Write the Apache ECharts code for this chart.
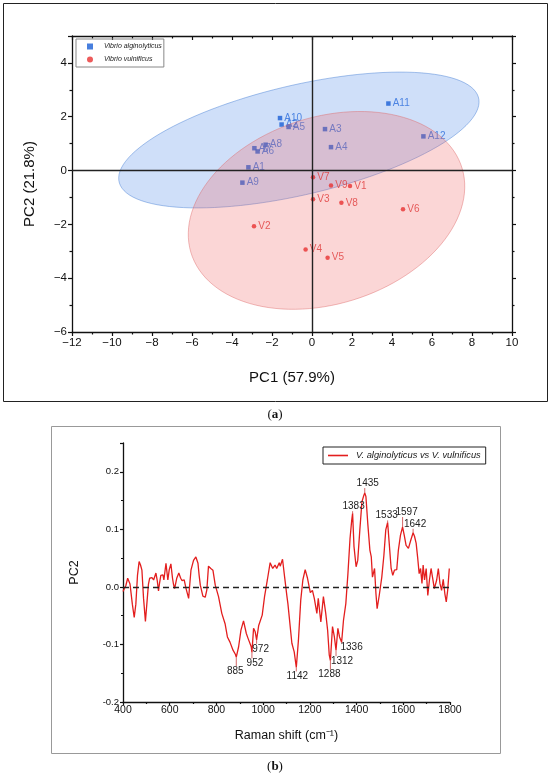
<!DOCTYPE html>
<html>
<head>
<meta charset="utf-8">
<title>PCA of Vibrio Raman spectra</title>
<script src="https://cdn.jsdelivr.net/npm/echarts@6/dist/echarts.min.js"></script>
<style>
html, body { margin: 0; padding: 0; background: #fff; }
#chart { width: 550px; height: 778px; }
</style>
</head>
<body>
<div id="chart"></div>
<script>
// ---- (a) PCA scores ----
var algNames = ['A1', 'A2', 'A3', 'A4', 'A5', 'A6', 'A7', 'A8', 'A9', 'A10', 'A11', 'A12'];
var algPC1 = [-3.18, -1.52, 0.65, 0.95, -1.17, -2.72, -2.88, -2.32, -3.48, -1.60, 3.82, 5.57];
var algPC2 = [0.12, 1.71, 1.54, 0.87, 1.62, 0.71, 0.83, 0.96, -0.45, 1.95, 2.49, 1.27];

var vulNames = ['V1', 'V2', 'V3', 'V4', 'V5', 'V6', 'V7', 'V8', 'V9'];
var vulPC1 = [1.90, -2.90, 0.05, -0.32, 0.78, 4.55, 0.05, 1.47, 0.95];
var vulPC2 = [-0.57, -2.07, -1.07, -2.93, -3.24, -1.44, -0.25, -1.20, -0.56];

// F(0.95; 2, n-2) for the 95% confidence ellipses
var fAlg = 4.1028; // n = 12
var fVul = 4.7374; // n = 9

// ---- (b) PC2 loading ----
var ramanShift = [400, 404, 412, 420, 430, 440, 448, 455, 462, 469, 475, 481, 488, 496, 504, 509, 514, 524, 531, 541,
  547, 552, 557, 562, 571, 575, 584, 592, 598, 605, 612, 616, 621, 630, 639, 647, 653, 662, 670, 676,
  681, 686, 691, 702, 712, 721, 726, 731, 742, 752, 759, 766, 776, 785, 795, 809, 823, 837, 847, 858,
  871, 881, 885, 895, 905, 916, 928, 935, 942, 949, 952, 959, 966, 972, 981, 996, 1006, 1018, 1030, 1041,
  1051, 1058, 1069, 1073, 1083, 1092, 1102, 1106, 1112, 1123, 1133, 1142, 1151, 1161, 1170, 1180, 1190, 1202, 1211, 1219,
  1230, 1236, 1247, 1258, 1268, 1276, 1283, 1288, 1297, 1305, 1312, 1320, 1327, 1336, 1344, 1354, 1363, 1372, 1379, 1383,
  1389, 1398, 1405, 1414, 1423, 1431, 1435, 1440, 1448, 1457, 1463, 1468, 1477, 1483, 1488, 1497, 1508, 1517, 1525, 1533,
  1539, 1548, 1555, 1562, 1572, 1579, 1588, 1597, 1604, 1612, 1622, 1632, 1642, 1648, 1655, 1662, 1668, 1674, 1680, 1685,
  1691, 1698, 1705, 1712, 1719, 1725, 1733, 1743, 1750, 1757, 1764, 1771, 1778, 1784, 1790, 1797];
var pc2Loading = [-0.008, -0.010, 0.002, 0.015, 0.005, -0.030, -0.053, -0.030, 0.020, 0.044, 0.038, 0.029, -0.020, -0.060, -0.020, 0.005, 0.015, 0.016, 0.012, 0.024,
  0.010, -0.007, 0.008, 0.020, 0.021, 0.012, 0.041, 0.012, 0.030, 0.040, 0.015, 0.005, -0.003, 0.015, 0.024, 0.015, 0.011, 0.012, -0.003, -0.012,
  -0.020, 0.005, 0.029, 0.046, 0.052, 0.041, 0.020, 0.003, -0.016, -0.018, -0.005, 0.036, 0.032, 0.029, 0.003, -0.017, -0.046, -0.064, -0.087, -0.096,
  -0.110, -0.117, -0.122, -0.104, -0.075, -0.059, -0.081, -0.089, -0.088, -0.104, -0.114, -0.072, -0.078, -0.092, -0.067, -0.049, -0.017, 0.012, 0.042, 0.032,
  0.038, 0.032, 0.042, 0.036, 0.048, 0.017, -0.017, -0.029, -0.031, -0.098, -0.113, -0.140, -0.093, -0.023, 0.012, 0.030, 0.015, -0.010, -0.006, -0.020,
  -0.046, -0.020, -0.061, -0.017, -0.046, -0.075, -0.118, -0.128, -0.069, -0.087, -0.110, -0.072, -0.087, -0.096, -0.058, -0.029, 0.023, 0.084, 0.115, 0.128,
  0.070, 0.035, 0.046, 0.099, 0.148, 0.159, 0.163, 0.157, 0.110, 0.064, 0.052, 0.017, 0.032, -0.012, -0.038, -0.015, 0.017, 0.055, 0.099, 0.112,
  0.080, 0.032, 0.020, 0.029, 0.030, 0.064, 0.090, 0.104, 0.090, 0.072, 0.067, 0.081, 0.094, 0.088, 0.076, 0.049, 0.023, 0.032, 0.006, 0.038,
  0.012, 0.032, -0.015, 0.012, 0.032, 0.017, -0.003, 0.012, 0.032, 0.006, -0.006, 0.013, -0.012, -0.026, -0.006, 0.032];
var peakShifts = [885, 952, 972, 1142, 1288, 1312, 1336, 1383, 1435, 1533, 1597, 1642];

var FONT = '"Liberation Sans", Arial, sans-serif';

// label placement for the peak numbers (pixel offset of text centre from the peak)
var peakLabelOffset = {
  885: [-1, 14], 952: [3, 11], 972: [4, 9], 1142: [1, 9], 1288: [-1, 14], 1312: [6, 11],
  1336: [10, 5], 1383: [1, -7], 1435: [3, -10], 1533: [-1, -7], 1597: [4, -15], 1642: [2, -9]
};

function mean(a) {
  var s = 0;
  for (var i = 0; i < a.length; i++) s += a[i];
  return s / a.length;
}

// 95% confidence ellipse of a group (covariance, F-distribution scale)
function confidenceEllipse(xs, ys, f) {
  var n = xs.length, mx = mean(xs), my = mean(ys);
  var sxx = 0, syy = 0, sxy = 0;
  for (var i = 0; i < n; i++) {
    sxx += (xs[i] - mx) * (xs[i] - mx);
    syy += (ys[i] - my) * (ys[i] - my);
    sxy += (xs[i] - mx) * (ys[i] - my);
  }
  sxx /= (n - 1); syy /= (n - 1); sxy /= (n - 1);
  var k = Math.sqrt(2 * (n - 1) * (n + 1) / (n * (n - 2)) * f);
  var tr = sxx + syy, det = sxx * syy - sxy * sxy;
  var d = Math.sqrt(tr * tr / 4 - det);
  var l1 = tr / 2 + d, l2 = tr / 2 - d;
  var ang = 0.5 * Math.atan2(2 * sxy, sxx - syy);
  var pts = [];
  for (var j = 0; j <= 120; j++) {
    var t = 2 * Math.PI * j / 120;
    var u = k * Math.sqrt(l1) * Math.cos(t), v = k * Math.sqrt(l2) * Math.sin(t);
    pts.push([mx + u * Math.cos(ang) - v * Math.sin(ang), my + u * Math.sin(ang) + v * Math.cos(ang)]);
  }
  return { center: [mx, my], points: pts };
}

function ellipseSeries(ell, fill, stroke, z) {
  return {
    type: 'custom',
    xAxisIndex: 0, yAxisIndex: 0,
    z: z, silent: true,
    data: [ell.center],
    renderItem: function (params, api) {
      return {
        type: 'polygon',
        shape: { points: ell.points.map(function (p) { return api.coord(p); }) },
        style: { fill: fill, stroke: stroke, lineWidth: 0.8 }
      };
    }
  };
}

function minus(v) { return v < 0 ? '\u2212' + (-v) : String(v); }

var algEll = confidenceEllipse(algPC1, algPC2, fAlg);
var vulEll = confidenceEllipse(vulPC1, vulPC2, fVul);

var loadingData = ramanShift.map(function (x, i) { return [x, pc2Loading[i]]; });
var peakData = peakShifts.map(function (x) {
  var i = ramanShift.indexOf(x);
  return [x, pc2Loading[i]];
});

var myChart = echarts.init(document.getElementById('chart'));

var axisLineA = { onZero: false, lineStyle: { color: '#111', width: 1.3 } };
var axisLineB = { onZero: false, lineStyle: { color: '#111', width: 1.3 } };

var option = {
  animation: false,
  textStyle: { fontFamily: FONT },
  grid: [
    { left: 72, top: 36, width: 440, height: 296 },
    { left: 123, top: 443, width: 327, height: 259 }
  ],
  legend: [
    {
      data: [
        { name: 'Vibrio alginolyticus', icon: 'rect' },
        { name: 'Vibrio vulnificus', icon: 'circle' }
      ],
      orient: 'vertical', left: 76, top: 39,
      itemWidth: 6, itemHeight: 6, itemGap: 6,
      padding: [4, 2, 4, 11],
      borderColor: '#888', borderWidth: 1,
      textStyle: { fontSize: 7, fontStyle: 'italic', color: '#222', fontFamily: FONT, padding: [0, 0, 0, 6] }
    },
    {
      data: [{ name: 'V. alginolyticus vs V. vulnificus', icon: 'rect' }],
      left: 323, top: 447,
      itemWidth: 20, itemHeight: 1.6,
      padding: [4, 5, 4, 5],
      borderColor: '#222', borderWidth: 1,
      textStyle: { fontSize: 9.3, fontStyle: 'italic', color: '#222', fontFamily: FONT, padding: [0, 0, 0, 3] }
    }
  ],
  xAxis: [
    {
      type: 'value', gridIndex: 0, min: -12, max: 10, interval: 2,
      name: 'PC1 (57.9%)', nameLocation: 'middle', nameGap: 38,
      nameTextStyle: { fontSize: 15, color: '#111', fontFamily: FONT },
      axisLine: axisLineA,
      axisTick: { length: 4, lineStyle: { color: '#111', width: 1.2 } },
      minorTick: { show: true, splitNumber: 2, length: 2.5, lineStyle: { color: '#111', width: 1.2 } },
      axisLabel: { fontSize: 11.5, color: '#111', margin: 5, formatter: minus },
      splitLine: { show: false }
    },
    {
      type: 'value', gridIndex: 0, min: -12, max: 10, interval: 2, position: 'top',
      axisLine: axisLineA,
      axisTick: { inside: true, length: 4, lineStyle: { color: '#111', width: 1.2 } },
      minorTick: { show: true, splitNumber: 2, length: 2.5, lineStyle: { color: '#111', width: 1.2 } },
      axisLabel: { show: false },
      splitLine: { show: false }
    },
    {
      type: 'value', gridIndex: 1, min: 400, max: 1800, interval: 200,
      name: 'Raman shift (cm\u207B\u00B9)', nameLocation: 'middle', nameGap: 27,
      nameTextStyle: { fontSize: 12.5, color: '#111', fontFamily: FONT },
      axisLine: axisLineB,
      axisTick: { length: 3, lineStyle: { color: '#111', width: 1.2 } },
      minorTick: { show: true, splitNumber: 2, length: 2, lineStyle: { color: '#111', width: 1.2 } },
      axisLabel: { fontSize: 10.5, color: '#111', margin: 3, formatter: function (v) { return String(v); } },
      splitLine: { show: false }
    }
  ],
  yAxis: [
    {
      type: 'value', gridIndex: 0, min: -6, max: 5, interval: 2,
      name: 'PC2 (21.8%)', nameLocation: 'middle', nameGap: 35,
      nameTextStyle: { fontSize: 15, color: '#111', fontFamily: FONT },
      axisLine: axisLineA,
      axisTick: { length: 4, lineStyle: { color: '#111', width: 1.2 } },
      minorTick: { show: true, splitNumber: 2, length: 2.5, lineStyle: { color: '#111', width: 1.2 } },
      axisLabel: { fontSize: 11.5, color: '#111', margin: 5, formatter: minus, showMaxLabel: false },
      splitLine: { show: false }
    },
    {
      type: 'value', gridIndex: 0, min: -6, max: 5, interval: 2, position: 'right',
      axisLine: axisLineA,
      axisTick: { length: 4, lineStyle: { color: '#111', width: 1.2 } },
      minorTick: { show: true, splitNumber: 2, length: 2.5, lineStyle: { color: '#111', width: 1.2 } },
      axisLabel: { show: false },
      splitLine: { show: false }
    },
    {
      type: 'value', gridIndex: 1, min: -0.2, max: 0.25, interval: 0.1,
      name: 'PC2', nameLocation: 'middle', nameGap: 42,
      nameTextStyle: { fontSize: 12.5, color: '#111', fontFamily: FONT },
      axisLine: axisLineB,
      axisTick: { length: 3, lineStyle: { color: '#111', width: 1.2 } },
      minorTick: { show: true, splitNumber: 2, length: 2, lineStyle: { color: '#111', width: 1.2 } },
      axisLabel: {
        fontSize: 9.5, color: '#111', margin: 4, showMaxLabel: false,
        formatter: function (v) { return v.toFixed(1); }
      },
      splitLine: { show: false }
    }
  ],
  series: [
    ellipseSeries(algEll, 'rgba(70,130,230,0.26)', 'rgba(60,120,210,0.55)', 1),
    {
      name: 'Vibrio alginolyticus', type: 'scatter', xAxisIndex: 0, yAxisIndex: 0, z: 2,
      symbol: 'rect', symbolSize: 4.5,
      itemStyle: { color: '#1a5fd6' },
      label: { show: true, position: 'right', distance: 2, formatter: '{b}', color: '#2c6ddc', fontSize: 10, fontFamily: FONT },
      data: algNames.map(function (n, i) { return { name: n, value: [algPC1[i], algPC2[i]] }; })
    },
    ellipseSeries(vulEll, 'rgba(240,90,90,0.25)', 'rgba(220,100,100,0.55)', 3),
    {
      name: 'Vibrio vulnificus', type: 'scatter', xAxisIndex: 0, yAxisIndex: 0, z: 4,
      symbol: 'circle', symbolSize: 4.5,
      itemStyle: { color: '#e83232' },
      label: { show: true, position: 'right', distance: 2, formatter: '{b}', color: '#e03a3a', fontSize: 10, fontFamily: FONT },
      data: vulNames.map(function (n, i) { return { name: n, value: [vulPC1[i], vulPC2[i]] }; }),
      markLine: {
        silent: true, symbol: 'none', label: { show: false },
        lineStyle: { color: '#222', width: 1.4, type: 'solid' },
        data: [{ xAxis: 0 }, { yAxis: 0 }]
      }
    },
    {
      name: 'V. alginolyticus vs V. vulnificus', type: 'line', xAxisIndex: 2, yAxisIndex: 2,
      symbol: 'none', showSymbol: false,
      lineStyle: { color: '#e31e1e', width: 1.3 },
      itemStyle: { color: '#e31e1e' },
      data: loadingData,
      markLine: {
        silent: true, symbol: 'none', label: { show: false },
        lineStyle: { color: '#222', width: 1.4, type: [6, 4] },
        data: [{ yAxis: 0 }]
      }
    },
    {
      type: 'custom', xAxisIndex: 2, yAxisIndex: 2, z: 5, silent: true,
      data: peakData,
      renderItem: function (params, api) {
        var x = api.value(0), y = api.value(1);
        var p = api.coord([x, y]);
        var off = peakLabelOffset[x];
        var dir = off[1] < 0 ? -1 : 1;
        var len = Math.max(Math.abs(off[1]) - 5, 1);
        return {
          type: 'group',
          children: [
            {
              type: 'line',
              shape: { x1: p[0], y1: p[1], x2: p[0], y2: p[1] + dir * len },
              style: { stroke: '#c84040', lineWidth: 0.8 }
            },
            {
              type: 'text',
              style: {
                x: p[0] + off[0], y: p[1] + off[1], text: String(x),
                fill: '#222', fontSize: 10, fontFamily: FONT,
                align: 'center', verticalAlign: 'middle'
              }
            }
          ]
        };
      }
    }
  ],
  graphic: [
    { type: 'rect', shape: { x: 3.5, y: 3.5, width: 544, height: 398 }, style: { fill: 'none', stroke: '#222', lineWidth: 1 }, silent: true },
    { type: 'rect', shape: { x: 51.5, y: 426.5, width: 449, height: 327 }, style: { fill: 'none', stroke: '#999', lineWidth: 1 }, silent: true },
    {
      type: 'text', x: 275, y: 415, silent: true,
      style: {
        text: '{p|(}{b|a}{p|)}', align: 'center', verticalAlign: 'middle',
        rich: {
          p: { fontFamily: '"Liberation Serif", "DejaVu Serif", serif', fontSize: 13, fill: '#111' },
          b: { fontFamily: '"Liberation Serif", "DejaVu Serif", serif', fontSize: 13, fontWeight: 'bold', fill: '#111' }
        }
      }
    },
    {
      type: 'text', x: 275, y: 767, silent: true,
      style: {
        text: '{p|(}{b|b}{p|)}', align: 'center', verticalAlign: 'middle',
        rich: {
          p: { fontFamily: '"Liberation Serif", "DejaVu Serif", serif', fontSize: 13, fill: '#111' },
          b: { fontFamily: '"Liberation Serif", "DejaVu Serif", serif', fontSize: 13, fontWeight: 'bold', fill: '#111' }
        }
      }
    }
  ]
};

myChart.setOption(option);
</script>
</body>
</html>
